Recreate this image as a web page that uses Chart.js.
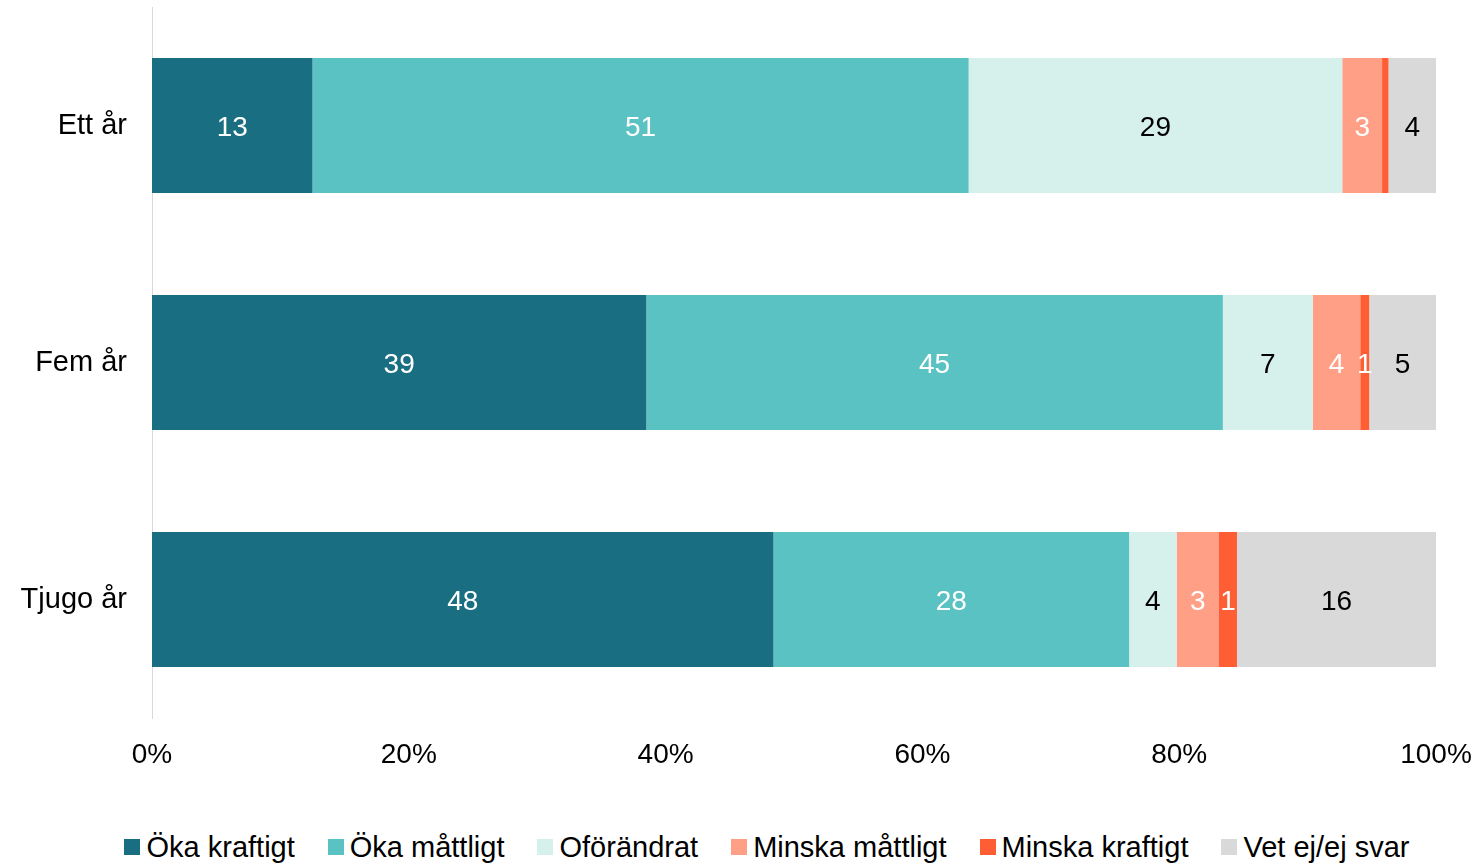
<!DOCTYPE html>
<html lang="sv">
<head>
<meta charset="utf-8">
<script src="https://cdn.jsdelivr.net/npm/chart.js@4"></script>
<style>
  html, body { margin: 0; padding: 0; background: #fff; }
  body { width: 1480px; height: 865px; position: relative; overflow: hidden; font-family: 'Liberation Sans', Arial, sans-serif; }
  #wrap { position: absolute; left: 0; top: 0; width: 1480px; height: 800px; }
  #legend { position: absolute; left: 27px; top: 829px; width: 1480px; display: flex; justify-content: center; gap: 33px; font-size: 29px; line-height: 36px; color: #000; }
  .item { display: flex; align-items: center; }
  .box { width: 16px; height: 16px; margin-right: 6px; }
</style>
</head>
<body>
<div id="wrap"><canvas id="chart" width="1480" height="800"></canvas></div>
<div id="legend"></div>
<script>
const categories = ['Ett år', 'Fem år', 'Tjugo år'];
const seriesNames = ['Öka kraftigt', 'Öka måttligt', 'Oförändrat', 'Minska måttligt', 'Minska kraftigt', 'Vet ej/ej svar'];
const seriesColors = ['#1A6E82', '#5BC2C4', '#D6F0EB', '#FF9F86', '#FF5E35', '#D9D9D9'];
const labelColors = ['#fff', '#fff', '#000', '#fff', '#fff', '#000'];

// bar widths as measured (percent)
const okaKraftigt = [12.5, 38.5, 48.4];
const okaMattligt = [51.1, 44.9, 27.7];
const oforandrat = [29.1, 7.0, 3.7];
const minskaMattligt = [3.1, 3.7, 3.3];
const minskaKraftigt = [0.5, 0.7, 1.4];
const vetEj = [3.7, 5.2, 15.5];

// printed numbers in the bars
const okaKraftigtLabels = [13, 39, 48];
const okaMattligtLabels = [51, 45, 28];
const oforandratLabels = [29, 7, 4];
const minskaMattligtLabels = [3, 4, 3];
const minskaKraftigtLabels = [null, 1, 1];
const vetEjLabels = [4, 5, 16];

const xTicks = [0, 20, 40, 60, 80, 100];

const seriesData = [okaKraftigt, okaMattligt, oforandrat, minskaMattligt, minskaKraftigt, vetEj];
const seriesLabels = [okaKraftigtLabels, okaMattligtLabels, oforandratLabels, minskaMattligtLabels, minskaKraftigtLabels, vetEjLabels];

Chart.defaults.font.family = "'Liberation Sans', Arial, sans-serif";
Chart.defaults.color = '#000';

const barLabels = {
  id: 'barLabels',
  afterDatasetsDraw(chart) {
    const ctx = chart.ctx;
    ctx.save();
    ctx.font = "28px 'Liberation Sans', Arial, sans-serif";
    ctx.textAlign = 'center';
    ctx.textBaseline = 'middle';
    chart.data.datasets.forEach((ds, i) => {
      chart.getDatasetMeta(i).data.forEach((bar, j) => {
        const text = seriesLabels[i][j];
        if (text === null || text === undefined) return;
        ctx.fillStyle = labelColors[i];
        ctx.fillText(String(text), (bar.x + bar.base) / 2, bar.y + 3);
      });
    });
    ctx.restore();
  }
};

new Chart(document.getElementById('chart').getContext('2d'), {
  type: 'bar',
  data: {
    labels: categories,
    datasets: seriesNames.map((name, i) => ({
      label: name,
      data: seriesData[i],
      backgroundColor: seriesColors[i],
      borderWidth: 0,
      categoryPercentage: 1,
      barPercentage: 0.57
    }))
  },
  options: {
    indexAxis: 'y',
    responsive: false,
    animation: false,
    layout: { padding: { top: 7, right: 44, bottom: 22, left: 0 } },
    scales: {
      x: {
        stacked: true,
        min: 0,
        max: 100,
        afterBuildTicks(scale) { scale.ticks = xTicks.map((v) => ({ value: v })); },
        afterFit(scale) {
          scale.height = 60;
          scale.paddingLeft = 0;
          scale.paddingRight = 0;
        },
        grid: { display: false, drawTicks: false },
        border: { display: false },
        ticks: { font: { size: 28 }, color: '#000', padding: 20, maxRotation: 0, callback: (v) => v + '%' }
      },
      y: {
        stacked: true,
        afterFit(scale) {
          scale.width = 152;
          scale.paddingTop = 0;
          scale.paddingBottom = 0;
        },
        grid: { display: false, drawTicks: false },
        border: { display: true, color: '#D9D9D9', width: 1 },
        ticks: { font: { size: 29 }, color: '#000', padding: 25 }
      }
    },
    plugins: {
      legend: { display: false },
      tooltip: { enabled: false }
    }
  },
  plugins: [barLabels]
});

const legend = document.getElementById('legend');
seriesNames.forEach((name, i) => {
  const item = document.createElement('div');
  item.className = 'item';
  const box = document.createElement('span');
  box.className = 'box';
  box.style.background = seriesColors[i];
  const text = document.createElement('span');
  text.textContent = name;
  item.appendChild(box);
  item.appendChild(text);
  legend.appendChild(item);
});
</script>
</body>
</html>
